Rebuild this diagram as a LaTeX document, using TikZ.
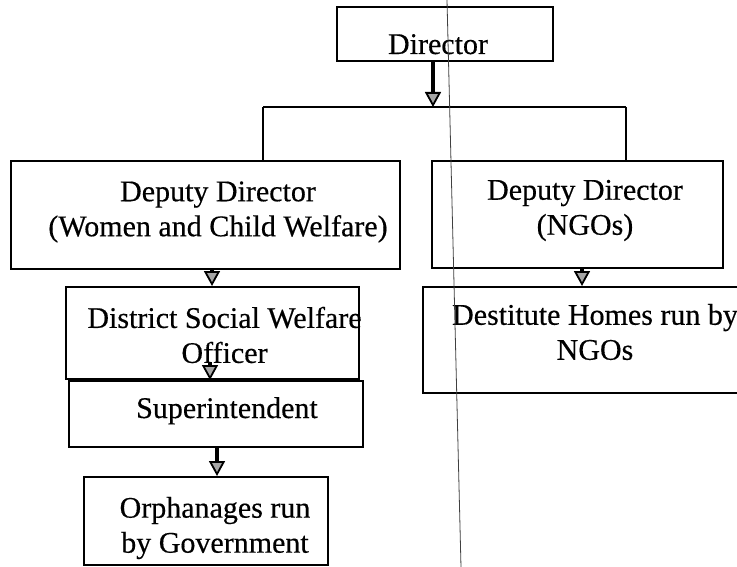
\documentclass[tikz,border=0pt]{standalone}
\usepackage{fontspec}
\setmainfont[FakeBold=0.4]{Liberation Serif}
\usetikzlibrary{arrows.meta}
\begin{document}
\begin{tikzpicture}[x=1pt,y=-1pt,
  box/.style={draw=black, line width=2pt, rectangle, inner sep=0pt, anchor=center},
  lbl/.style={inner sep=0pt, align=center, font=\fontsize{30}{35}\selectfont},
  link/.style={draw=black, line width=2pt},
  arr/.style={draw=black, line width=3.5pt,
    -{Triangle[width=16pt, length=15pt, line width=1.8pt, fill=black!35]}},
  crease/.style={draw=black!75, line width=0.8pt}]
  \useasboundingbox (0,0) rectangle (737,567);
  \fill[white] (0,0) rectangle (737,567);
  \clip (0,0) rectangle (737,567);

  % frames
  \node[box, minimum width=216pt, minimum height=54pt]  (dir)  at (445,34)    {};
  \node[box, minimum width=389pt, minimum height=108pt] (dd1)  at (205.5,215) {};
  \node[box, minimum width=291pt, minimum height=107pt] (dd2)  at (577.5,214.5) {};
  \node[box, minimum width=293pt, minimum height=92pt]  (dswo) at (212.5,333) {};
  \node[box, minimum width=294pt, minimum height=66pt]  (sup)  at (216,414)   {};
  \node[box, minimum width=244pt, minimum height=88pt]  (orph) at (206,521)   {};
  \node[box, minimum width=337pt, minimum height=106pt] (dest) at (591.5,340) {};

  % captions
  \node[lbl, anchor=base] (dirT) at (438,54) {Director};
  \node[lbl] (dd1T)  at (218,212)   {Deputy Director\\(Women and Child Welfare)};
  \node[lbl] (dd2T)  at (585,210.5) {Deputy Director\\(NGOs)};
  \node[lbl] (dswoT) at (224.5,335) {District Social Welfare\\Officer};
  \node[lbl, anchor=base] (supT) at (227,418) {Superintendent};
  \node[lbl] (orphT) at (215,528)   {Orphanages run\\by Government};
  \node[lbl] (destT) at (595,332)   {Destitute Homes run by\\NGOs};

  % branch under the director
  \coordinate (tip) at (433,107);
  \coordinate (bl)  at (263,107);
  \coordinate (br)  at (626,107);
  \draw[link] (bl) -- (br);
  \draw[link] (bl) -- (bl |- dd1.north);
  \draw[link] (br) -- (br |- dd2.north);
  \draw[arr] (tip |- dir.south) -- (tip);

  % downward links
  \coordinate (c1) at (212,0);
  \coordinate (c2) at (210,0);
  \coordinate (c3) at (217,0);
  \coordinate (c4) at (582,0);
  \draw[arr] (c1 |- dd1.south) -- (c1 |- dswo.north);
  \draw[arr] ([yshift=18pt]c2 |- dswo.south) -- (c2 |- sup.north);
  \draw[arr] (c3 |- sup.south) -- (c3 |- orph.north);
  \draw[arr] (c4 |- dd2.south) -- (c4 |- dest.north);

  % fold line of the sheet
  \coordinate (ft) at (447,0);
  \coordinate (fb) at (461,567);
  \draw[crease] (ft) -- (fb);
\end{tikzpicture}
\end{document}
